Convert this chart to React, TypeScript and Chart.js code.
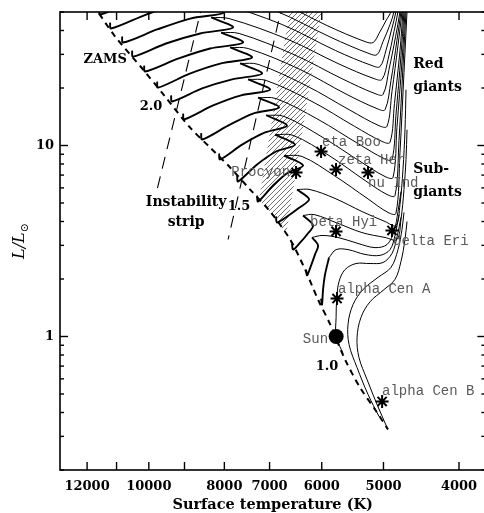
import React, { useEffect, useRef } from "react";
import { Chart, registerables } from "chart.js";
Chart.register(...registerables);

// ---------- axis ticks ----------
const xTickValues = [12000, 11000, 10000, 9000, 8000, 7000, 6000, 5000, 4000];
const xTickLabels = ["12000", "", "10000", "", "8000", "7000", "6000", "5000", "4000"];
const yMajorValues = [1, 10];
const yMajorLabels = ["1", "10"];
const yMinorValues = [0.2, 0.3, 0.4, 0.5, 0.6, 0.7, 0.8, 0.9, 2, 3, 4, 5, 6, 7, 8, 9, 20, 30, 40, 50];

// ---------- evolution tracks: [Teff (K), L/Lsun] ----------
// main-sequence parts (thick) and post-main-sequence parts (thin)
const ms26 = [[11582, 52.2], [11548, 48.5], [10413, 57.4], [9363, 66.4], [8443, 71.4], [9010, 80.5]];
const post26 = [[9010, 80.5], [8543, 79.5], [7010, 59.9], [5924, 42.7], [5280, 35.0], [5156, 34.6], [5066, 38.6], [4962, 45.1], [4890, 50.3], [4886, 54.7]];
const ms25 = [[11213, 44.0], [11180, 41.0], [10081, 48.5], [9117, 55.4], [8221, 59.5], [8774, 67.2]];
const post25 = [[8774, 67.2], [8319, 66.4], [6867, 50.6], [5837, 36.8], [5218, 30.3], [5096, 29.9], [5007, 35.0], [4904, 43.0], [4847, 50.3], [4843, 54.7]];
const ms24 = [[10822, 37.2], [10790, 34.6], [9758, 40.5], [8851, 46.2], [8007, 49.7], [8543, 56.1]];
const post24 = [[8543, 56.1], [8101, 55.4], [6746, 43.0], [5759, 31.4], [5172, 26.2], [5051, 25.9], [4962, 31.6], [4876, 41.2], [4819, 50.3], [4815, 54.7]];
const ms23 = [[10507, 31.4], [10476, 29.2], [9504, 34.2], [8593, 38.6], [7796, 41.5], [8319, 46.8]];
const post23 = [[8319, 46.8], [7889, 46.2], [6627, 35.9], [5701, 26.7], [5141, 22.4], [5021, 22.2], [4933, 28.2], [4847, 39.5], [4790, 50.3], [4786, 54.7]];
const ms22 = [[10140, 26.2], [10110, 24.4], [9171, 28.5], [8344, 32.2], [7569, 34.6], [8077, 39.0]];
const post22 = [[8077, 39.0], [7659, 38.6], [6511, 29.9], [5642, 22.3], [5126, 18.7], [5007, 18.5], [4919, 25.0], [4824, 37.2], [4762, 50.3], [4758, 54.7]];
const ms21 = [[9758, 21.6], [9730, 20.1], [8877, 23.7], [8077, 26.9], [7371, 28.9], [7865, 32.6]];
const post21 = [[7865, 32.6], [7458, 32.2], [6396, 25.0], [5585, 18.6], [5096, 15.6], [4977, 15.4], [4890, 21.9], [4805, 35.5], [4748, 50.3], [4744, 54.7]];
const ms20 = [[9363, 18.3], [9335, 17.0], [8543, 19.9], [7819, 22.2], [7156, 23.8], [7636, 26.9]];
const post20 = [[7636, 26.9], [7241, 26.6], [6284, 20.6], [5519, 15.3], [5066, 12.7], [4948, 12.6], [4876, 19.2], [4790, 33.4], [4734, 50.3], [4730, 54.7]];
const ms19 = [[9037, 14.7], [9010, 13.7], [8270, 16.2], [7614, 18.3], [6989, 19.6], [7458, 22.2]];
const post19 = [[7458, 22.2], [7071, 21.9], [6175, 17.0], [5446, 12.6], [5021, 10.5], [4904, 10.4], [4840, 16.6], [4762, 31.4], [4720, 50.3], [4716, 54.7]];
const ms18 = [[8568, 11.6], [8543, 10.75], [7912, 12.7], [7349, 14.7], [6806, 15.8], [7241, 17.8]];
const post18 = [[7241, 17.8], [6867, 17.6], [6066, 13.7], [5383, 10.2], [4992, 8.55], [4876, 8.45], [4819, 14.4], [4748, 29.6], [4706, 50.3], [4702, 54.7]];
const ms17 = [[8125, 9.08], [8101, 8.45], [7591, 10.1], [7092, 11.7], [6647, 12.7], [7071, 14.4]];
const post17 = [[7071, 14.4], [6706, 14.2], [5977, 11.0], [5343, 8.2], [4977, 6.88], [4861, 6.8], [4805, 12.4], [4734, 27.5], [4692, 50.3], [4688, 54.7]];
const ms16 = [[7704, 6.97], [7682, 6.48], [7263, 7.95], [6867, 9.3], [6492, 10.1], [6887, 11.4]];
const post16 = [[6887, 11.4], [6530, 11.3], [5872, 8.86], [5280, 6.56], [4948, 5.54], [4833, 5.47], [4776, 10.6], [4720, 25.9], [4678, 50.3], [4674, 54.7]];
const ms15 = [[7263, 5.47], [7241, 5.09], [6928, 6.17], [6627, 7.22], [6340, 7.86], [6706, 8.86]];
const post15 = [[6706, 8.86], [6359, 8.76], [5785, 6.97], [5233, 5.25], [4933, 4.46], [4819, 4.41], [4762, 9.19], [4706, 24.1], [4664, 50.3], [4660, 54.7]];
const ms14 = [[6867, 4.25], [6847, 3.95], [6647, 4.25], [6434, 4.68], [6229, 5.22], [6454, 5.88]];
const post14 = [[6454, 5.88], [6211, 5.88], [5768, 5.28], [5327, 4.51], [4977, 4.0], [4819, 3.81], [4762, 4.91], [4720, 7.49], [4692, 12.1], [4678, 19.6]];
const ms13 = [[6550, 3.07], [6530, 2.85], [6396, 3.1], [6266, 3.42], [6156, 3.81], [6340, 4.3]];
const post13 = [[6340, 4.3], [6138, 4.35], [5718, 3.91], [5327, 3.5], [4977, 3.3], [4805, 3.22], [4748, 4.1], [4706, 5.88], [4678, 8.45], [4664, 12.1]];
const ms12 = [[6284, 2.24], [6266, 2.09], [6193, 2.35], [6120, 2.69], [6066, 3.0], [6175, 3.3]];
const post12 = [[6175, 3.3], [5995, 3.38], [5718, 3.3], [5391, 3.07], [5126, 2.92], [4948, 3.03], [4847, 3.55], [4790, 4.51], [4748, 5.74]];
const ms11 = [[6012, 1.58], [5995, 1.47], [5977, 1.76], [5942, 2.11], [5872, 2.59]];
const post11 = [[5872, 2.59], [5751, 2.85], [5552, 2.85], [5280, 2.69], [5051, 2.66], [4904, 2.85], [4833, 3.38], [4776, 4.35]];
const track10 = [[5634, 0.815], [5750, 1.0], [5751, 1.26], [5740, 1.58], [5701, 1.94], [5601, 2.24], [5422, 2.41], [5202, 2.41], [5007, 2.44], [4876, 2.72], [4805, 3.3], [4748, 4.2]];
const track09 = [[5066, 0.381], [5233, 0.497], [5406, 0.688], [5535, 0.908], [5552, 1.16], [5470, 1.47], [5311, 1.76], [5081, 2.04], [4890, 2.3], [4790, 2.85], [4734, 3.63], [4706, 4.46]];
const track08 = [[4948, 0.334], [5096, 0.441], [5249, 0.596], [5375, 0.776], [5406, 0.988], [5343, 1.26], [5202, 1.52], [4992, 1.76], [4833, 1.99], [4748, 2.47], [4692, 3.22], [4664, 4.0]];

// zero-age main sequence
const zams = [[11790, 54.7], [11047, 37.2], [10171, 25.0], [9532, 18.05], [8851, 12.4], [8344, 9.76], [7865, 7.67], [7414, 5.88], [6989, 4.51], [6588, 3.22], [6302, 2.24], [6066, 1.56], [5854, 1.16], [5601, 0.758], [5359, 0.541], [5126, 0.415], [4933, 0.326]];
// instability strip edges
const stripBlue = [[8518, 56.7], [9758, 5.88]];
const stripRed = [[6726, 56.7], [7912, 3.22]];
// hatched region outline
const hatchRegion = [[6569, 56.7], [7220, 5.22], [6989, 4.51], [6666, 3.42], [5977, 56.7], [6569, 56.7]];

// stars
const starNames = ["eta Boo", "zeta Her", "nu Ind", "Procyon", "beta Hyi", "delta Eri", "alpha Cen A", "alpha Cen B"];
const starT = [6012, 5752, 5234, 6473, 5752, 4876, 5735, 5020];
const starL = [9.3, 7.49, 7.22, 7.22, 3.55, 3.59, 1.58, 0.457];
const sunT = [5750];
const sunL = [1.0];

// annotation texts (anchor in data units)
const starLabels = [
  { text: "eta Boo", t: 5995, l: 10.4, align: "left" },
  { text: "zeta Her", t: 5718, l: 8.35, align: "left" },
  { text: "nu Ind", t: 5233, l: 6.32, align: "left" },
  { text: "Procyon", t: 6588, l: 7.22, align: "right" },
  { text: "beta Hyi", t: 6211, l: 3.95, align: "left" },
  { text: "delta Eri", t: 4861, l: 3.14, align: "left" },
  { text: "alpha Cen A", t: 5718, l: 1.76, align: "left" },
  { text: "Sun", t: 5889, l: 0.964, align: "right" },
  { text: "alpha Cen B", t: 5021, l: 0.515, align: "left" },
];
const boldLabels = [
  { text: "ZAMS", t: 11378, l: 28.2, align: "center", size: 13 },
  { text: "2.0", t: 9934, l: 16.0, align: "center", size: 13 },
  { text: "1.5", t: 7659, l: 4.79, align: "center", size: 13 },
  { text: "1.0", t: 5907, l: 0.697, align: "center", size: 13 },
  { text: "Instability", t: 8957, l: 5.03, align: "center", size: 14 },
  { text: "strip", t: 8957, l: 3.95, align: "center", size: 14 },
  { text: "Red", t: 4580, l: 26.6, align: "left", size: 14 },
  { text: "giants", t: 4580, l: 20.1, align: "left", size: 14 },
  { text: "Sub-", t: 4580, l: 7.49, align: "left", size: 14 },
  { text: "giants", t: 4580, l: 5.67, align: "left", size: 14 },
];

const msTracks = [ms26, ms25, ms24, ms23, ms22, ms21, ms20, ms19, ms18, ms17, ms16, ms15, ms14, ms13, ms12, ms11];
const postTracks = [post26, post25, post24, post23, post22, post21, post20, post19, post18, post17, post16, post15, post14, post13, post12, post11, track10, track09, track08];

const toXY = (arr: number[][]) => arr.map(([x, y]) => ({ x, y }));

const SERIF = '"DejaVu Serif", serif';

const decorPlugin = {
  id: "decor",
  afterDatasetsDraw(chart: any) {
    const { ctx, chartArea: a, scales } = chart;
    const xs = scales.x;
    const ys = scales.y;
    ctx.save();
    // labels
    ctx.textBaseline = "middle";
    ctx.fillStyle = "#5a5a5a";
    ctx.font = '14px "Liberation Mono", monospace';
    starLabels.forEach((s) => {
      ctx.textAlign = s.align;
      ctx.fillText(s.text, xs.getPixelForValue(s.t), ys.getPixelForValue(s.l));
    });
    ctx.fillStyle = "#000";
    boldLabels.forEach((s) => {
      ctx.font = `bold ${s.size}px ${SERIF}`;
      ctx.textAlign = s.align;
      ctx.fillText(s.text, xs.getPixelForValue(s.t), ys.getPixelForValue(s.l));
    });
    // frame
    ctx.strokeStyle = "#000";
    ctx.lineWidth = 1.6;
    ctx.strokeRect(a.left, a.top, a.right - a.left, a.bottom - a.top);
    const seg = (x1: number, y1: number, x2: number, y2: number) => {
      ctx.beginPath();
      ctx.moveTo(x1, y1);
      ctx.lineTo(x2, y2);
      ctx.stroke();
    };
    ctx.lineWidth = 1.4;
    xTickValues.forEach((v) => {
      const px = xs.getPixelForValue(v);
      seg(px, a.bottom, px, a.bottom - 8);
      seg(px, a.top, px, a.top + 8);
    });
    yMajorValues.forEach((v) => {
      const py = ys.getPixelForValue(v);
      seg(a.left, py, a.left + 8, py);
      seg(a.right, py, a.right - 8, py);
    });
    yMinorValues.forEach((v) => {
      const py = ys.getPixelForValue(v);
      seg(a.left, py, a.left + 4, py);
      seg(a.right, py, a.right - 4, py);
    });
    // tick labels
    ctx.font = `bold 13px ${SERIF}`;
    ctx.textAlign = "center";
    ctx.textBaseline = "middle";
    xTickValues.forEach((v, i) => {
      if (xTickLabels[i]) ctx.fillText(xTickLabels[i], xs.getPixelForValue(v), a.bottom + 17);
    });
    ctx.textAlign = "right";
    yMajorValues.forEach((v, i) => {
      ctx.fillText(yMajorLabels[i], a.left - 6, ys.getPixelForValue(v));
    });
    // axis titles
    ctx.font = `bold 14.5px ${SERIF}`;
    ctx.textAlign = "center";
    ctx.fillText("Surface temperature (K)", (a.left + a.right) / 2, 505);
    ctx.save();
    ctx.translate(20, (a.top + a.bottom) / 2);
    ctx.rotate(-Math.PI / 2);
    ctx.textAlign = "left";
    const main = "L/L";
    const sub = "⊙";
    ctx.font = `italic 16px ${SERIF}`;
    const w = ctx.measureText(main).width;
    ctx.font = `11px ${SERIF}`;
    const ws = ctx.measureText(sub).width;
    const total = w + ws;
    ctx.font = `italic 16px ${SERIF}`;
    ctx.fillText(main, -total / 2, 0);
    ctx.font = `11px ${SERIF}`;
    ctx.fillText(sub, -total / 2 + w, 5);
    ctx.restore();
    ctx.restore();
  },
};

export default function App() {
  const ref = useRef<HTMLCanvasElement>(null);
  useEffect(() => {
    const canvas = ref.current;
    if (!canvas) return;
    // hatch pattern
    const pc = document.createElement("canvas");
    pc.width = 5;
    pc.height = 5;
    const pctx = pc.getContext("2d")!;
    pctx.strokeStyle = "#707070";
    pctx.lineWidth = 1;
    pctx.beginPath();
    pctx.moveTo(0, 5);
    pctx.lineTo(5, 0);
    pctx.moveTo(-1, 1);
    pctx.lineTo(1, -1);
    pctx.moveTo(4, 6);
    pctx.lineTo(6, 4);
    pctx.stroke();
    const pattern = canvas.getContext("2d")!.createPattern(pc, "repeat");

    const datasets: any[] = [];
    datasets.push({
      data: toXY(sunT.map((t, i) => [t, sunL[i]])),
      pointStyle: "circle",
      pointRadius: 7.5,
      backgroundColor: "#000",
      borderColor: "#000",
      borderWidth: 0,
      showLine: false,
    });
    datasets.push({
      data: toXY(starT.map((t, i) => [t, starL[i]])),
      pointStyle: "star",
      pointRadius: 6.5,
      borderColor: "#000",
      borderWidth: 2,
      showLine: false,
      label: starNames.join(","),
    });
    msTracks.forEach((tr) =>
      datasets.push({
        data: toXY(tr),
        showLine: true,
        borderColor: "#000",
        borderWidth: 1.9,
        pointRadius: 0,
        tension: 0.3,
        fill: false,
      })
    );
    postTracks.forEach((tr) =>
      datasets.push({
        data: toXY(tr),
        showLine: true,
        borderColor: "#000",
        borderWidth: 1,
        pointRadius: 0,
        tension: 0.35,
        fill: false,
      })
    );
    datasets.push({
      data: toXY(zams),
      showLine: true,
      borderColor: "#000",
      borderWidth: 2,
      borderDash: [6, 5],
      pointRadius: 0,
      tension: 0.3,
      fill: false,
    });
    [stripBlue, stripRed].forEach((s) =>
      datasets.push({
        data: toXY(s),
        showLine: true,
        borderColor: "#000",
        borderWidth: 1.1,
        borderDash: [12, 8],
        pointRadius: 0,
        tension: 0,
        fill: false,
      })
    );
    datasets.push({
      data: toXY(hatchRegion),
      showLine: true,
      borderWidth: 0,
      borderColor: "rgba(0,0,0,0)",
      backgroundColor: pattern,
      pointRadius: 0,
      tension: 0,
      fill: "shape",
    });

    const chart = new Chart(canvas, {
      type: "scatter",
      data: { datasets },
      options: {
        responsive: false,
        animation: false,
        devicePixelRatio: 1,
        events: [],
        layout: { padding: { left: 60, right: 14.6, top: 12, bottom: 43 } },
        plugins: { legend: { display: false }, tooltip: { enabled: false } },
        scales: {
          x: { type: "logarithmic", reverse: true, min: 3700, max: 13000, display: false },
          y: { type: "logarithmic", min: 0.2, max: 50, display: false },
        },
      },
      plugins: [decorPlugin],
    } as any);
    return () => chart.destroy();
  }, []);
  return (
    <div style={{ position: "absolute", left: 0, top: 0, width: 484, height: 513, overflow: "hidden", background: "#fff" }}>
      <canvas ref={ref} width={500} height={513} style={{ display: "block", width: 500, height: 513 }} />
    </div>
  );
}
